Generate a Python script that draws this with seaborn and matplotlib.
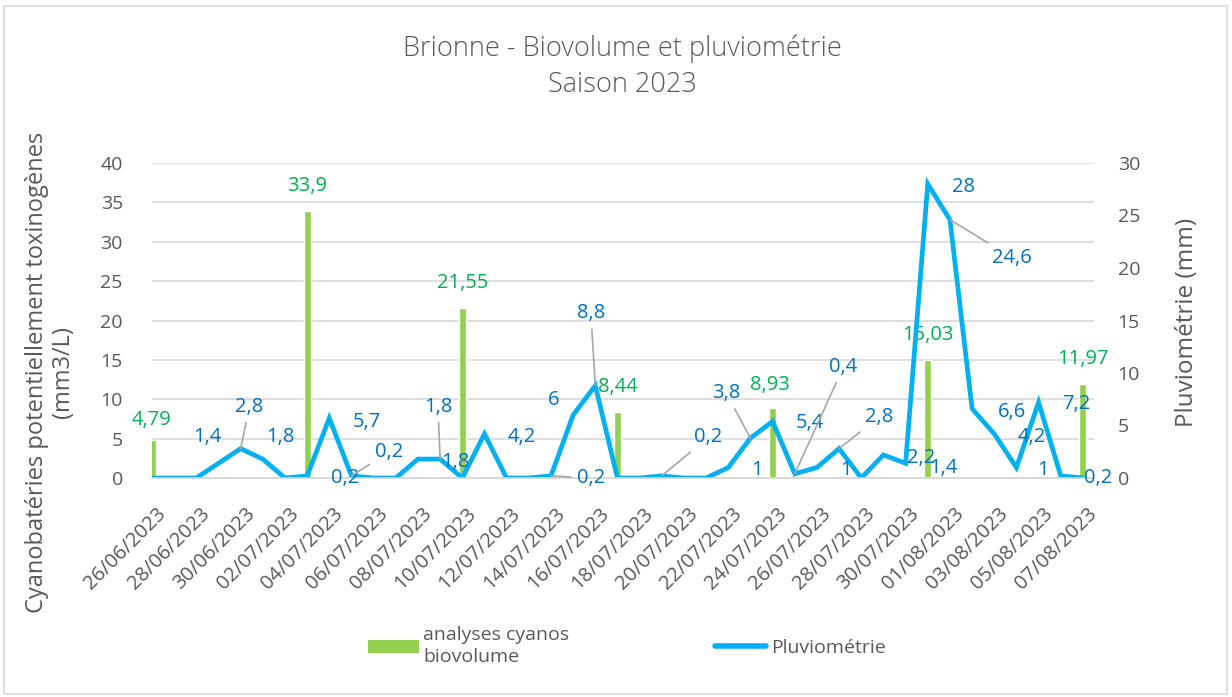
import numpy as np
import pandas as pd
import seaborn as sns
import matplotlib.pyplot as plt
from matplotlib.patches import Patch, Rectangle
from matplotlib.lines import Line2D
from matplotlib.transforms import ScaledTranslation

# --- data ---
dates = pd.date_range("2023-06-26", "2023-08-07", freq="D")
date_labels = [d.strftime("%d/%m/%Y") for d in dates]

rain_mm = [0, 0, 0, 1.4, 2.8, 1.8, 0, 0.2, 5.7, 0.2,
           0, 0, 1.8, 1.8, 0, 4.2, 0, 0, 0.2, 6,
           8.8, 0, 0, 0.2, 0, 0, 1, 3.8, 5.4, 0.4,
           1, 2.8, 0, 2.2, 1.4, 28, 24.6, 6.6, 4.2, 1,
           7.2, 0.2, 0]

sample_dates = ["26/06/2023", "03/07/2023", "10/07/2023", "17/07/2023",
                "24/07/2023", "31/07/2023", "07/08/2023"]
biovolume = [4.79, 33.9, 21.55, 8.44, 8.93, 15.03, 11.97]

df = pd.DataFrame({"date": date_labels, "day": np.arange(len(date_labels)), "rain": rain_mm})
bio = pd.DataFrame({"date": sample_dates, "bio": biovolume})
df = df.merge(bio, on="date", how="left")

# label placement (text centre, in data units), leader line flag
line_label_pos = {
    3: (2.5, 3.9, False), 4: (4.4, 6.8, True), 5: (5.8, 3.9, False),
    7: (8.7, 0.0, False), 8: (9.7, 5.3, False), 9: (10.7, 2.5, True),
    12: (13.7, 1.5, False), 13: (12.9, 6.8, True), 15: (16.7, 3.9, False),
    18: (19.8, 0.0, True), 19: (18.1, 7.4, False), 20: (19.8, 15.7, True),
    23: (25.1, 3.9, True), 26: (27.3, 0.8, False), 27: (25.9, 8.1, True),
    28: (29.7, 5.2, False), 29: (31.2, 10.6, True), 30: (31.3, 0.8, False),
    31: (32.8, 5.8, True), 33: (34.7, 1.9, False), 34: (35.7, 1.0, False),
    35: (36.6, 27.7, False), 36: (38.8, 21.0, True), 37: (38.8, 6.3, False),
    38: (39.7, 3.9, False), 39: (40.2, 0.8, False), 40: (41.7, 7.0, False),
    41: (42.7, 0.0, False),
}
bar_label_pos = [(0.0, 7.4), (7.0, 37.1), (14.0, 24.8), (21.0, 11.6),
                 (27.9, 11.8), (35.0, 18.2), (42.0, 15.1)]

GREEN_BAR = "#92D050"
GREEN_TXT = "#00B050"
BLUE_LINE = "#00B0F0"
BLUE_TXT = "#0070C0"
GREY = "#595959"
GRID = "#D9D9D9"


def fr(v):
    return f"{v:g}".replace(".", ",")


sns.set_style("white")
plt.rcParams["font.family"] = ["Open Sans", "DejaVu Sans"]

fig = plt.figure(figsize=(12.32, 6.97), dpi=100)
ax1 = fig.add_axes([152 / 1232, 1 - 478 / 697, (1094 - 152) / 1232, (478 - 163) / 697])
ax2 = ax1.twinx()

sns.barplot(data=df, x="date", y="bio", order=date_labels, color=GREEN_BAR,
            saturation=1, width=0.32, ax=ax1, zorder=2)
sns.lineplot(x=df["day"], y=df["rain"], color=BLUE_LINE, linewidth=3.4, ax=ax2,
             solid_joinstyle="miter")

ax1.set_xlim(0, 42.5)
ax1.set_ylim(0, 40)
ax2.set_ylim(0, 30)
ax1.set_yticks(np.arange(0, 41, 5))
ax2.set_yticks(np.arange(0, 31, 5))
ax1.set_axisbelow(True)
ax1.yaxis.grid(True, color=GRID, linewidth=1.2)
ax1.set_xlabel("")
ax1.set_ylabel("")
ax2.set_ylabel("")

for a in (ax1, ax2):
    for s in ("left", "right", "top"):
        a.spines[s].set_visible(False)
    a.spines["bottom"].set_color(GRID)
    a.spines["bottom"].set_linewidth(1.2)
ax1.tick_params(axis="y", length=0, labelsize=14, labelcolor=GREY, pad=21)
ax2.tick_params(axis="y", length=0, labelsize=14, labelcolor=GREY, pad=17)

ax1.set_xticks(np.arange(0, 43, 2))
ax1.set_xticks(np.arange(0, 43, 1), minor=True)
ax1.set_xticklabels([date_labels[i] for i in range(0, 43, 2)], rotation=45,
                    ha="right", va="top", rotation_mode="anchor")
ax1.tick_params(axis="x", which="both", length=4.5, color=GRID, width=1.2,
                labelsize=14.5, labelcolor=GREY, pad=14)
shift = ScaledTranslation(4 / 100, 0, fig.dpi_scale_trans)
for lab in ax1.get_xticklabels():
    lab.set_transform(lab.get_transform() + shift)

# bar labels
for (lx, ly), v in zip(bar_label_pos, biovolume):
    ax1.text(lx, ly, fr(v), color=GREEN_TXT, fontsize=14.5, ha="center", va="center",
             clip_on=False, zorder=5)

# line labels
for d, (lx, ly, leader) in line_label_pos.items():
    v = rain_mm[d]
    if leader:
        ax2.annotate(fr(v), xy=(d, v), xytext=(lx, ly), color=BLUE_TXT, fontsize=14.5,
                     ha="center", va="center",
                     arrowprops=dict(arrowstyle="-", color="#A6A6A6", lw=1.2,
                                     shrinkA=2, shrinkB=0))
    else:
        ax2.text(lx, ly, fr(v), color=BLUE_TXT, fontsize=14.5, ha="center", va="center",
                 clip_on=False)

fig.text(622 / 1232, 1 - 49 / 697, "Brionne - Biovolume et pluviométrie", ha="center",
         va="center", fontsize=19.5, color=GREY, fontweight="light")
fig.text(622 / 1232, 1 - 85 / 697, "Saison 2023", ha="center", va="center",
         fontsize=19.5, color=GREY, fontweight="light")
fig.text(50 / 1232, 1 - 372 / 697, "Cyanobatéries potentiellement toxinogènes\n(mm3/L)",
         rotation=90, ha="center", va="center", multialignment="center",
         fontsize=17, color=GREY, linespacing=1.15)
fig.text(1187 / 1232, 1 - 322 / 697, "Pluviométrie (mm)", rotation=90, ha="center",
         va="center", fontsize=17.5, color=GREY)

handles = [Patch(facecolor=GREEN_BAR, edgecolor="none"),
           Line2D([0], [0], color=BLUE_LINE, linewidth=4, solid_capstyle="round")]
leg = fig.legend(handles, ["analyses cyanos\nbiovolume", "Pluviométrie"], ncol=2,
                 loc="upper left", bbox_to_anchor=(368 / 1232, 1 - 626 / 697),
                 frameon=False, fontsize=14, labelcolor=GREY, handlelength=2.6,
                 handleheight=0.65, handletextpad=0.25, columnspacing=7.5,
                 borderpad=0, borderaxespad=0)
for t in leg.get_texts():
    t.set_linespacing(1.3)

fig.add_artist(Rectangle((0.003, 0.004), 0.993, 0.988, transform=fig.transFigure,
                         fill=False, edgecolor=GRID, linewidth=1.2))

fig.savefig("out.png", dpi=100)
